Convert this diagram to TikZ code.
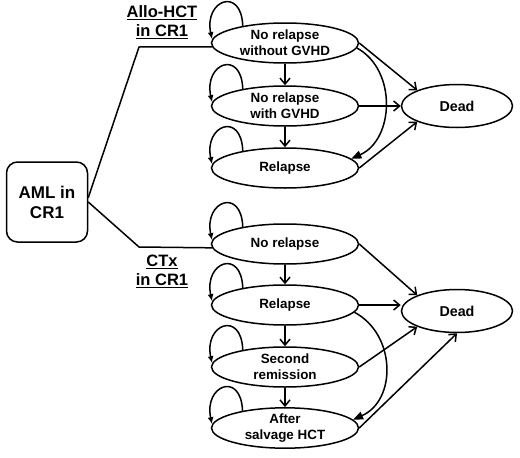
\documentclass[tikz,border=0pt]{standalone}
\usepackage{fontspec}
\setmainfont{Liberation Sans}
\usetikzlibrary{arrows.meta,shapes.geometric}
\tikzset{
  >={Straight Barb[length=6pt,width=10pt]},
  stnode/.style={ellipse,draw,line width=1.5pt,minimum width=147pt,
    minimum height=40pt,inner sep=0pt,align=center,
    font=\fontsize{13.4}{16}\selectfont\bfseries},
  deadnode/.style={stnode,minimum width=111pt,minimum height=43pt,
    font=\fontsize{14.3}{17}\selectfont\bfseries},
  amlbox/.style={draw,rounded corners=11pt,line width=1.5pt,minimum width=81pt,
    minimum height=80pt,align=center,font=\fontsize{17}{20}\selectfont\bfseries},
  armlbl/.style={align=center,font=\fontsize{16.5}{19}\selectfont\bfseries},
  armline/.style={line width=1.5pt},
  trans/.style={->,line width=1.5pt},
  selfloop/.style={-{Latex[length=7pt,width=6pt]},line width=1.5pt},
  relcurve/.style={-{Triangle[length=10pt,width=8pt]},line width=1.5pt},
}

\begin{document}
\begin{tikzpicture}[x=1pt,y=-1pt]
  \useasboundingbox (0,0) rectangle (520,458);
  \node[amlbox] (aml) at (47,202) {AML in\\CR1};
  \node[armlbl] (hctlbl) at (162,22) {\underline{Allo-HCT}\\\underline{in CR1}};
  \node[armlbl] (ctxlbl) at (162,271) {\underline{CTx}\\\underline{in CR1}};
  % allo-HCT arm
  \node[stnode] (a1) at (285,43) {No relapse\\without GVHD};
  \node[stnode] (a2) at (285,106) {No relapse\\with GVHD};
  \node[stnode] (a3) at (285,168) {Relapse};
  \node[deadnode] (da) at (457,106) {Dead};
  % chemotherapy arm
  \node[stnode] (b1) at (285,244) {No relapse};
  \node[stnode] (b2) at (285,305) {Relapse};
  \node[stnode] (b3) at (285,367) {Second\\remission};
  \node[stnode] (b4) at (285,428) {After\\salvage HCT};
  \node[deadnode] (db) at (457,311) {Dead};

  \coordinate (ja) at (139,47);
  \coordinate (jb) at (139,247);
  \draw[armline] (aml.6) -- (ja) -- (a1.183);
  \draw[armline] (aml.east) -- (jb) -- (b1.183);

  \foreach \n in {a1,a2,a3,b1,b2,b3,b4}
    \draw[selfloop] (\n.158) .. controls +(92:40pt) and +(102:40pt) .. (\n.177);
  \foreach \s/\t in {a1/a2,a2/a3,b1/b2,b2/b3,b3/b4}
    \draw[trans] (\s) -- (\t);

  \foreach \s/\t in {a1/da.north west,a2/da.west,a3/da.south west,
                     b1/db.north west,b3/db.south west,b4/db.south}
    \draw[trans] (\s.east) -- (\t);
  \draw[trans] (b2.east) -- (db.west |- b2.east);

  \draw[relcurve] (a1.-4) .. controls +(-29:46pt) and +(24:47pt) .. (a3.8);
  \draw[relcurve] (b2.-6) .. controls +(-28:47pt) and +(24:48pt) .. (b4.7);
\end{tikzpicture}
\end{document}
